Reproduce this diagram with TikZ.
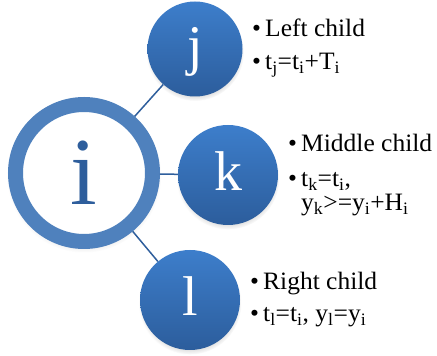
\documentclass[tikz,border=0pt]{standalone}
\usepackage{fontspec}
\setmainfont{Liberation Serif}
\newfontfamily\notefont[FakeStretch=1.02]{Liberation Serif}
\usetikzlibrary{shadows}
\definecolor{ringblue}{HTML}{4F81BD}
\definecolor{deepblue}{HTML}{2E5E9C}
\definecolor{topblue}{HTML}{3D7ECB}
\definecolor{lowblue}{HTML}{2C5D9C}
\newcommand\bul{\makebox[13pt][l]{\textbullet}}
\begin{document}
\begin{tikzpicture}[x=1pt,y=1pt,
  rootnode/.style={circle,draw=ringblue,line width=15pt,fill=white,minimum size=137pt,inner sep=0pt,
    text=deepblue,font=\fontsize{96}{96}\selectfont,text height=64pt,text depth=0pt,
    circular drop shadow={shadow xshift=0pt,shadow yshift=-2pt,shadow scale=1.13,opacity=.25}},
  kidnode/.style={circle,minimum size=100pt,inner sep=0pt,top color=topblue,bottom color=lowblue,
    text=white,font=\fontsize{56}{56}\selectfont,text height=32pt,text depth=0pt,
    circular drop shadow={shadow xshift=0pt,shadow yshift=-3pt,shadow scale=1.03,opacity=.35}},
  link/.style={draw=deepblue,line width=1.5pt},
  note/.style={anchor=base west,inner sep=0pt,align=left,font=\notefont\fontsize{25}{24}\selectfont}]
\useasboundingbox (0,0) rectangle (437,356);
% circles
\node[rootnode] (i) at (84,183) {i};
\node[kidnode,minimum size=95pt] (j) at (195,307) {j};
\node[kidnode] (k) at (228,181) {k};
\node[kidnode] (l) at (190,56) {l};
\draw[link] (i) -- (j);
\draw[link] (i) -- (k);
\draw[link] (i) -- (l);
% notes
\node[note] (jtop) at (252,319) {\bul Left child};
\node[note] (jrule) at (252,286) {\bul t\textsubscript{j}=t\textsubscript{i}+T\textsubscript{i}};
\node[note] (ktop) at (288,204) {\bul Middle child};
\node[note] (krule) at (288,145) {\bul t\textsubscript{k}=t\textsubscript{i},\\
  \hspace*{13pt}y\textsubscript{k}>=y\textsubscript{i}+H\textsubscript{i}};
\node[note] (ltop) at (250,66) {\bul Right child};
\node[note] (lrule) at (250,34) {\bul t\textsubscript{l}=t\textsubscript{i}, y\textsubscript{l}=y\textsubscript{i}};
\end{tikzpicture}
\end{document}
